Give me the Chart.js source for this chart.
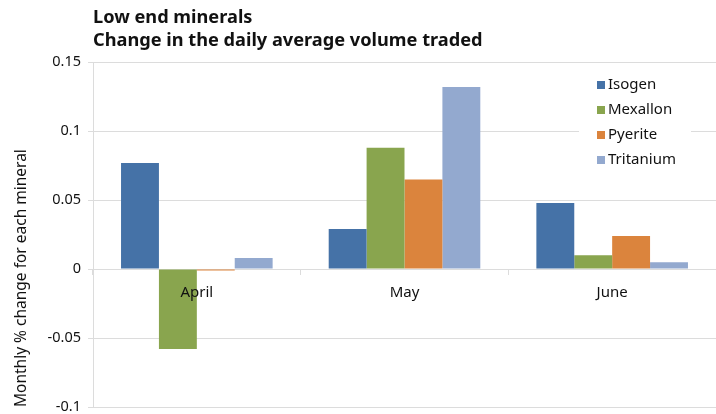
<!DOCTYPE html>
<html lang="en">
<head>
  <meta charset="UTF-8">
  <title>Low end minerals</title>
  <script src="https://cdn.jsdelivr.net/npm/chart.js"></script>
  <style>
    html, body { margin: 0; padding: 0; background: #fff; }
    #wrap { position: relative; width: 716px; height: 414px; }
  </style>
</head>
<body>
<div id="wrap"><canvas id="chart" width="716" height="414"></canvas></div>
<script>
  // Chart data
  const months = ['April', 'May', 'June'];
  const isogen = [0.077, 0.029, 0.048];
  const mexallon = [-0.058, 0.088, 0.010];
  const pyerite = [-0.001, 0.065, 0.024];
  const tritanium = [0.008, 0.132, 0.005];
  const yTicks = [-0.1, -0.05, 0, 0.05, 0.1, 0.15];

  const FONT = '"Noto Sans", sans-serif';
  const gridColor = '#dcdcdc';

  // legend drawn inside the plot area, top right, on a white box
  const insideLegend = {
    id: 'insideLegend',
    afterDraw(chart) {
      const ctx = chart.ctx;
      const x = 585, y0 = 75, rowH = 25;
      ctx.save();
      ctx.fillStyle = '#fff';
      ctx.fillRect(x - 6, y0 - 4, 112, rowH * 4 + 2);
      ctx.font = '15px ' + FONT;
      ctx.textBaseline = 'middle';
      chart.data.datasets.forEach((ds, i) => {
        const cy = y0 + 10 + i * rowH;
        ctx.fillStyle = ds.backgroundColor;
        ctx.fillRect(x + 12, cy - 4, 8, 8);
        ctx.fillStyle = '#111';
        ctx.fillText(ds.label, x + 23, cy);
      });
      ctx.restore();
    }
  };

  new Chart(document.getElementById('chart'), {
    type: 'bar',
    data: {
      labels: months,
      datasets: [
        { label: 'Isogen', data: isogen, backgroundColor: '#4572A7' },
        { label: 'Mexallon', data: mexallon, backgroundColor: '#89A54E' },
        { label: 'Pyerite', data: pyerite, backgroundColor: '#DB843D' },
        { label: 'Tritanium', data: tritanium, backgroundColor: '#93A9CF' }
      ]
    },
    options: {
      responsive: false,
      animation: false,
      layout: { padding: { top: 6, right: 0, bottom: 7, left: 0 } },
      datasets: { bar: { categoryPercentage: 0.73, barPercentage: 1.0 } },
      plugins: {
        legend: { display: false },
        tooltip: { enabled: false },
        title: {
          display: true,
          text: ['Low end minerals', 'Change in the daily average volume traded'],
          align: 'start',
          fullSize: false,
          color: '#111',
          font: { family: FONT, size: 18.2, weight: 'bold', lineHeight: 1.27 },
          padding: { top: 0, bottom: 10 }
        }
      },
      scales: {
        x: {
          position: { y: 0 },
          offset: true,
          border: { display: true, color: gridColor },
          grid: { offset: true, drawOnChartArea: false, drawTicks: true, tickLength: 5, color: gridColor },
          ticks: { z: 1, color: '#111', padding: 10, font: { family: FONT, size: 15 } }
        },
        y: {
          min: -0.1,
          max: 0.15,
          afterFit: s => { s.width = 93; s.paddingTop = 0; s.paddingBottom = 0; },
          afterBuildTicks: s => { s.ticks = yTicks.map(v => ({ value: v })); },
          border: { display: true, color: gridColor },
          grid: { color: gridColor, tickLength: 5 },
          ticks: {
            color: '#111',
            padding: 7,
            font: { family: FONT, size: 14.5 },
            callback: v => String(+v.toFixed(2))
          },
          title: {
            display: true,
            text: 'Monthly % change for each mineral',
            align: 'start',
            color: '#111',
            font: { family: FONT, size: 15.5 },
            padding: { top: 12, bottom: 0 }
          }
        }
      }
    },
    plugins: [insideLegend]
  });
</script>
</body>
</html>
